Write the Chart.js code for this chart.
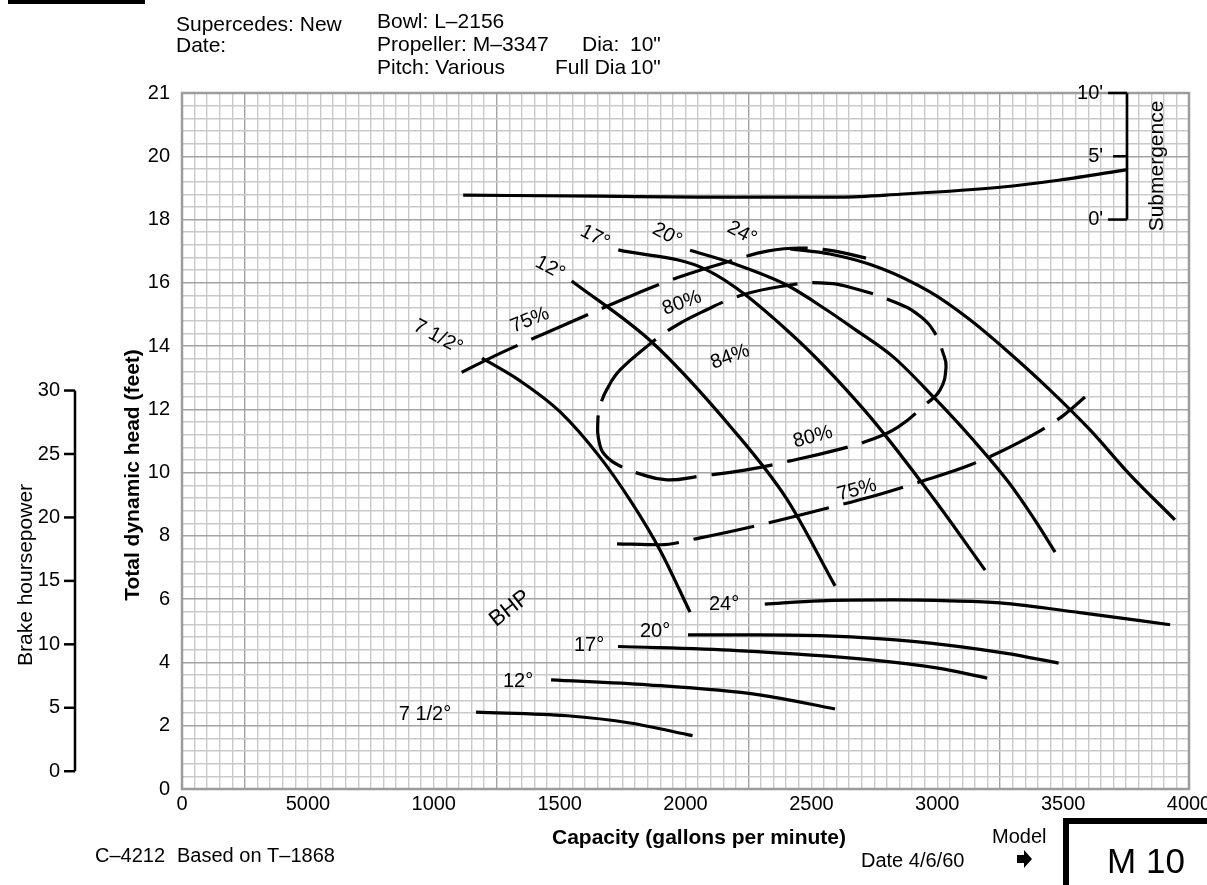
<!DOCTYPE html>
<html>
<head>
<meta charset="utf-8">
<script src="https://cdn.jsdelivr.net/npm/chart.js@4.4.1/dist/chart.umd.min.js"></script>
<style>
  html, body { margin: 0; padding: 0; background: #fff; }
  #wrap { width: 1207px; height: 885px; position: relative; }
</style>
</head>
<body>
<div id="wrap"><canvas id="c" width="1207" height="885"></canvas></div>
<script>
// ---- axis ticks -------------------------------------------------------
const capacityTicks = [0, 500, 1000, 1500, 2000, 2500, 3000, 3500, 4000];
const capacityTickLabels = ['0', '5000', '1000', '1500', '2000', '2500', '3000', '3500', '4000'];
const headTicks = [0, 2, 4, 6, 8, 10, 12, 14, 16, 18, 20, 22];
const headTickLabels = ['0', '2', '4', '6', '8', '10', '12', '14', '16', '18', '20', '21'];
const bhpTicks = [0, 5, 10, 15, 20, 25, 30];
const submergenceTicks = [0, 5, 10];
const submergenceTickLabels = ["0'", "5'", "10'"];

// ---- head–capacity curves by blade pitch (gpm, ft) ----------------------
const head7_5 = [[1192, 13.62], [1343, 12.9], [1502, 11.92], [1660, 10.49], [1780, 9.13], [1899, 7.55], [2018, 5.59]];
const head12 = [[1548, 16.06], [1866, 14.13], [2190, 11.35], [2402, 9.17], [2594, 6.42]];
const head17 = [[1733, 17.04], [2084, 16.41], [2402, 14.51], [2720, 11.89], [2984, 9.2], [3190, 6.92]];
const head20 = [[2018, 17.03], [2190, 16.61], [2402, 15.93], [2561, 15.14], [2667, 14.56], [2825, 13.66], [2984, 12.4], [3143, 11.03], [3282, 9.71], [3388, 8.5], [3468, 7.49]];
const head24 = [[2415, 17.07], [2574, 16.91], [2773, 16.47], [2971, 15.71], [3130, 14.83], [3281, 13.82], [3448, 12.61], [3607, 11.35], [3766, 9.93], [3944, 8.51]];

// ---- required submergence (plotted on the head grid) ---------------------
const submergence = [[1117, 18.77], [1660, 18.74], [2058, 18.71], [2614, 18.71], [2852, 18.8], [3249, 19.02], [3488, 19.25], [3754, 19.58]];

// ---- efficiency contours (gpm, ft) -------------------------------------
const eff75Upper = [[1111, 13.17], [1263, 13.77], [1502, 14.61], [1791, 15.61], [1978, 16.19], [2149, 16.62], [2324, 17.0], [2455, 17.1], [2594, 17.0], [2717, 16.78]];
const eff75Lower = [[1728, 7.75], [1899, 7.72], [2058, 7.94], [2296, 8.35], [2534, 8.82], [2733, 9.23], [2931, 9.71], [3130, 10.24], [3329, 10.97], [3488, 11.73], [3587, 12.39]];
const eff80Loop = [[1704, 12.87], [1740, 13.25], [1839, 13.94], [1946, 14.57], [2058, 15.05], [2228, 15.62], [2415, 15.93], [2534, 16.0], [2653, 15.86], [2840, 15.36], [2931, 14.95], [2991, 14.41], [3023, 13.78], [3035, 13.34], [3011, 12.61], [2951, 12.14], [2844, 11.44], [2733, 11.03], [2602, 10.72], [2415, 10.37], [2236, 10.08], [2058, 9.89], [1927, 9.77], [1819, 9.96], [1740, 10.21], [1688, 10.49], [1660, 10.87], [1652, 11.66], [1668, 12.29], [1704, 12.87]];

// ---- brake horsepower curves by blade pitch (gpm, BHP) -------------------
const bhp7_5 = [[1168, 4.66], [1531, 4.37], [1780, 3.8], [2028, 2.8]];
const bhp12 = [[1466, 7.2], [1851, 6.81], [2294, 6.02], [2594, 4.9]];
const bhp17 = [[1732, 9.83], [2205, 9.51], [2737, 8.78], [3003, 8.13], [3198, 7.34]];
const bhp20 = [[2010, 10.75], [2296, 10.75], [2560, 10.67], [2914, 10.22], [3269, 9.31], [3482, 8.52]];
const bhp24 = [[2315, 13.17], [2534, 13.43], [2826, 13.5], [3051, 13.43], [3249, 13.27], [3567, 12.5], [3925, 11.54]];

// BHP scale sits beside the head scale: head(ft) = offset + perBhp * BHP
const bhpHeadOffset = 0.562;
const bhpHeadPerUnit = 0.4011;
// submergence scale: head(ft) = base + perFoot * submergence(ft)
const submergenceBase = 18;
const submergencePerFoot = 0.4;

const FONT = '"Liberation Sans", Arial, Helvetica, sans-serif';
const pts = a => a.map(([x, y]) => ({ x, y }));

// smooth solid curve, monotone along capacity
function solid(data, axis) {
  return { data: pts(data), yAxisID: axis || 'y', showLine: true, borderColor: '#000', borderWidth: 3.2,
    pointRadius: 0, cubicInterpolationMode: 'monotone', fill: false };
}
function dashed(data) {
  return Object.assign(solid(data), { borderDash: [62, 15], borderCapStyle: 'butt' });
}
// closed contour: spline through points in drawing order
function dashedLoop(data) {
  return Object.assign(dashed(data), { cubicInterpolationMode: 'default', tension: 0.45 });
}

// curve labels placed in gpm / ft coordinates
const curveLabels = [
  { t: '7 1/2°', x: 1017, y: 14.29, rot: 28 },
  { t: '12°', x: 1462, y: 16.47, rot: 28 },
  { t: '17°', x: 1640, y: 17.45, rot: 28 },
  { t: '20°', x: 1927, y: 17.51, rot: 28 },
  { t: '24°', x: 2224, y: 17.57, rot: 28 },
  { t: '75%', x: 1382, y: 14.82, rot: -22 },
  { t: '80%', x: 1986, y: 15.36, rot: -20 },
  { t: '84%', x: 2177, y: 13.66, rot: -20 },
  { t: '80%', x: 2506, y: 11.13, rot: -15 },
  { t: '75%', x: 2681, y: 9.45, rot: -15 },
  { t: '24°', x: 2153, y: 5.82, rot: 0 },
  { t: '20°', x: 1879, y: 4.99, rot: 0 },
  { t: '17°', x: 1617, y: 4.55, rot: 0 },
  { t: '12°', x: 1335, y: 3.41, rot: 0 },
  { t: '7 1/2°', x: 965, y: 2.37, rot: 0 },
  { t: 'BHP', x: 1303, y: 5.7, rot: -38, size: 22 }
];

function text(ctx, s, x, y, opts) {
  opts = opts || {};
  ctx.save();
  ctx.font = (opts.bold ? 'bold ' : '') + (opts.size || 20) + 'px ' + FONT;
  ctx.fillStyle = '#000';
  ctx.textAlign = opts.align || 'left';
  ctx.textBaseline = opts.base || 'alphabetic';
  ctx.translate(x, y);
  if (opts.rot) ctx.rotate(opts.rot * Math.PI / 180);
  ctx.fillText(s, 0, 0);
  ctx.restore();
}

const decorations = {
  id: 'decorations',
  beforeDatasetsDraw(chart) {
    const { ctx, chartArea: a } = chart;
    ctx.save();
    ctx.strokeStyle = '#9c9c9c';
    ctx.lineWidth = 2.5;
    ctx.strokeRect(a.left, a.top, a.right - a.left, a.bottom - a.top);
    ctx.restore();
  },
  afterDraw(chart) {
    const { ctx } = chart;
    const xs = chart.scales.x, ys = chart.scales.y, bs = chart.scales.bhp;

    // curve labels
    curveLabels.forEach(l => {
      text(ctx, l.t, xs.getPixelForValue(l.x), ys.getPixelForValue(l.y), { align: 'center', base: 'middle', rot: l.rot, size: l.size });
    });

    // brake horsepower scale
    ctx.save();
    ctx.strokeStyle = '#000';
    ctx.lineWidth = 2.5;
    const bx = 75;
    ctx.beginPath();
    ctx.moveTo(bx, bs.getPixelForValue(30));
    ctx.lineTo(bx, bs.getPixelForValue(0));
    ctx.stroke();
    bhpTicks.forEach(v => {
      const py = bs.getPixelForValue(v);
      ctx.beginPath(); ctx.moveTo(64, py); ctx.lineTo(bx, py); ctx.stroke();
      text(ctx, String(v), 60, py, { align: 'right', base: 'middle' });
    });
    ctx.restore();
    text(ctx, 'Brake hoursepower', 26, 575, { align: 'center', base: 'middle', rot: -90, size: 21 });
    text(ctx, 'Total dynamic head (feet)', 133, 475, { align: 'center', base: 'middle', rot: -90, bold: true, size: 21 });

    // submergence scale
    ctx.save();
    ctx.strokeStyle = '#000';
    ctx.lineWidth = 2.5;
    const sx = xs.getPixelForValue(3754);
    const sy = s => ys.getPixelForValue(submergenceBase + submergencePerFoot * s);
    ctx.beginPath();
    ctx.moveTo(sx, sy(10)); ctx.lineTo(sx, sy(0)); ctx.stroke();
    submergenceTicks.forEach((v, i) => {
      const py = sy(v);
      ctx.beginPath(); ctx.moveTo(v === 5 ? sx - 14 : sx - 19, py); ctx.lineTo(sx, py); ctx.stroke();
      text(ctx, submergenceTickLabels[i], sx - 24, py, { align: 'right', base: 'middle' });
    });
    ctx.restore();
    text(ctx, 'Submergence', sx + 30, 166, { align: 'center', base: 'middle', rot: -90, size: 21 });

    // header block
    ctx.fillStyle = '#000';
    ctx.fillRect(8, 0, 137, 4);
    const h = { size: 21 };
    text(ctx, 'Supercedes: New', 176, 31, h);
    text(ctx, 'Date:', 176, 52, h);
    text(ctx, 'Bowl: L\u20132156', 377, 28, h);
    text(ctx, 'Propeller: M\u20133347', 377, 51, h);
    text(ctx, 'Dia:', 582, 51, h);
    text(ctx, '10"', 630, 51, h);
    text(ctx, 'Pitch: Various', 377, 74, h);
    text(ctx, 'Full Dia', 555, 74, h);
    text(ctx, '10"', 630, 74, h);

    // footer
    text(ctx, 'Capacity (gallons per minute)', 699, 844, { align: 'center', bold: true, size: 21 });
    text(ctx, 'C\u20134212', 95, 862);
    text(ctx, 'Based on T\u20131868', 177, 862);
    text(ctx, 'Date 4/6/60', 861, 867);
    text(ctx, 'Model', 992, 843);
    // pointer arrow
    ctx.save();
    ctx.fillStyle = '#000';
    ctx.beginPath();
    ctx.moveTo(1017, 855); ctx.lineTo(1024, 855); ctx.lineTo(1024, 850);
    ctx.lineTo(1032, 859); ctx.lineTo(1024, 868); ctx.lineTo(1024, 863);
    ctx.lineTo(1017, 863); ctx.closePath(); ctx.fill();
    // model box
    ctx.lineWidth = 6;
    ctx.strokeStyle = '#000';
    ctx.beginPath();
    ctx.moveTo(1066, 890); ctx.lineTo(1066, 821); ctx.lineTo(1212, 821);
    ctx.stroke();
    ctx.restore();
    text(ctx, 'M 10', 1146, 873, { align: 'center', size: 35 });
  }
};

const gridMinor = '#c9c9c9';
const gridMajor = '#a3a3a3';

new Chart(document.getElementById('c'), {
  type: 'scatter',
  data: {
    datasets: [
      solid(submergence),
      solid(head7_5), solid(head12), solid(head17), solid(head20), solid(head24),
      dashed(eff75Upper), dashed(eff75Lower), dashedLoop(eff80Loop),
      solid(bhp7_5, 'bhp'), solid(bhp12, 'bhp'), solid(bhp17, 'bhp'), solid(bhp20, 'bhp'), solid(bhp24, 'bhp')
    ]
  },
  options: {
    responsive: false,
    animation: false,
    events: [],
    layout: { padding: { top: 93, right: 18, bottom: 0, left: 0 } },
    plugins: { legend: { display: false }, tooltip: { enabled: false } },
    scales: {
      x: {
        type: 'linear', position: 'bottom', min: 0, max: 4000,
        afterBuildTicks: s => { s.ticks = Array.from({ length: 81 }, (_, i) => ({ value: i * 50 })); },
        afterFit: s => { s.height = 96; s.paddingLeft = 0; s.paddingRight = 0; },
        ticks: {
          autoSkip: false, maxRotation: 0, padding: 3, color: '#000',
          font: { family: FONT, size: 20 },
          callback: v => { const i = capacityTicks.indexOf(v); return i >= 0 ? capacityTickLabels[i] : ''; }
        },
        grid: {
          drawTicks: false, lineWidth: 1.4,
          color: c => ((c.tick.value - 250) % 1000 === 0 ? gridMajor : gridMinor)
        },
        border: { display: false }
      },
      y: {
        type: 'linear', position: 'left', min: 0, max: 22,
        afterBuildTicks: s => { s.ticks = Array.from({ length: 56 }, (_, i) => ({ value: i * 2 / 5 })); },
        afterFit: s => { s.width = 182; s.paddingTop = 0; s.paddingBottom = 0; },
        ticks: {
          autoSkip: false, padding: 12, color: '#000',
          font: { family: FONT, size: 20 },
          callback: v => { const i = headTicks.indexOf(v); return i >= 0 ? headTickLabels[i] : ''; }
        },
        grid: {
          drawTicks: false, lineWidth: 1.4,
          color: c => (headTicks.indexOf(c.tick.value) >= 0 ? gridMajor : gridMinor)
        },
        border: { display: false }
      },
      bhp: {
        type: 'linear', display: false,
        min: -bhpHeadOffset / bhpHeadPerUnit,
        max: (22 - bhpHeadOffset) / bhpHeadPerUnit
      }
    }
  },
  plugins: [decorations]
});
</script>
</body>
</html>
